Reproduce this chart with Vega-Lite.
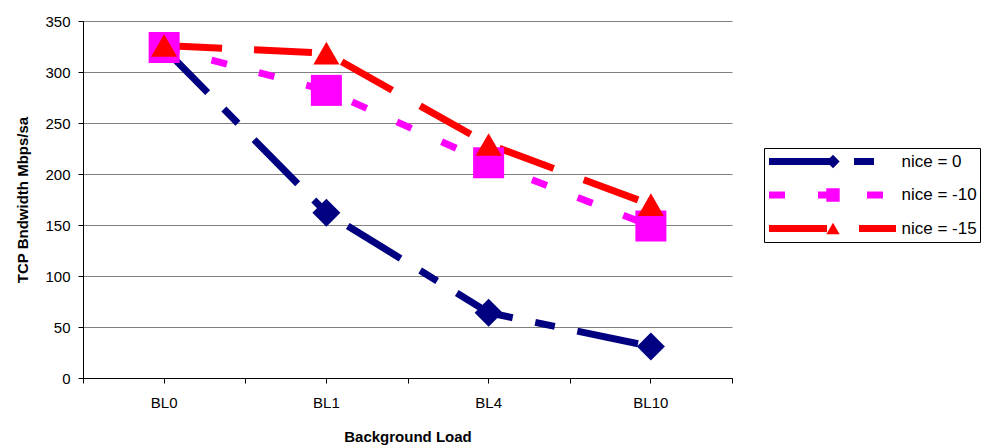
{
  "$schema": "https://vega.github.io/schema/vega-lite/v6.json",
  "width": 649,
  "height": 357,
  "autosize": {"type": "none"},
  "padding": {"left": 83, "top": 21, "right": 250, "bottom": 67},
  "background": "white",
  "config": {
    "view": {"stroke": null},
    "font": "Liberation Sans",
    "axis": {
      "labelFont": "Liberation Sans",
      "labelFontSize": 15,
      "labelColor": "black",
      "titleFont": "Liberation Sans",
      "titleFontSize": 15,
      "titleFontWeight": "bold",
      "titleColor": "black",
      "domainColor": "black",
      "domainWidth": 1,
      "tickColor": "black",
      "tickSize": 5,
      "tickWidth": 1
    }
  },
  "data": {
    "values": [
      {"load": "BL0", "series": "nice = 0", "marker": "m0", "bw": 323},
      {"load": "BL1", "series": "nice = 0", "marker": "m0", "bw": 162},
      {"load": "BL4", "series": "nice = 0", "marker": "m0", "bw": 64},
      {"load": "BL10", "series": "nice = 0", "marker": "m0", "bw": 31},
      {"load": "BL0", "series": "nice = -10", "marker": "m10", "bw": 324},
      {"load": "BL1", "series": "nice = -10", "marker": "m10", "bw": 282},
      {"load": "BL4", "series": "nice = -10", "marker": "m10", "bw": 211},
      {"load": "BL10", "series": "nice = -10", "marker": "m10", "bw": 149},
      {"load": "BL0", "series": "nice = -15", "marker": "m15", "bw": 326},
      {"load": "BL1", "series": "nice = -15", "marker": "m15", "bw": 318.5},
      {"load": "BL4", "series": "nice = -15", "marker": "m15", "bw": 229},
      {"load": "BL10", "series": "nice = -15", "marker": "m15", "bw": 170}
    ]
  },
  "encoding": {
    "x": {
      "field": "load",
      "type": "ordinal",
      "sort": ["BL0", "BL1", "BL4", "BL10"],
      "scale": {"type": "band", "paddingInner": 0, "paddingOuter": 0},
      "axis": null
    },
    "y": {
      "field": "bw",
      "type": "quantitative",
      "scale": {"domain": [0, 350], "nice": false, "zero": true},
      "axis": {
        "title": "TCP Bndwidth Mbps/sa",
        "values": [0, 50, 100, 150, 200, 250, 300, 350],
        "grid": true,
        "gridColor": "#808080",
        "gridWidth": 1.2,
        "labelPadding": 8,
        "titlePadding": 14
      }
    }
  },
  "layer": [
    {
      "mark": {"type": "line", "strokeWidth": 7, "strokeCap": "butt"},
      "encoding": {
        "x": {
          "field": "load",
          "type": "ordinal",
          "sort": ["BL0", "BL1", "BL4", "BL10"],
          "scale": {"type": "band", "paddingInner": 0, "paddingOuter": 0},
          "axis": {"orient": "bottom", "tickBand": "extent", "labels": false, "title": null, "grid": false}
        },
        "color": {
          "field": "series",
          "type": "nominal",
          "scale": {"domain": ["nice = 0", "nice = -10", "nice = -15"], "range": ["#000080", "#FF00FF", "#FF0000"]},
          "legend": {
            "orient": "none",
            "legendX": 681,
            "legendY": 127,
            "title": null,
            "symbolType": "stroke",
            "symbolSize": 16129,
            "symbolStrokeWidth": 7,
            "strokeColor": "black",
            "padding": 3,
            "clipHeight": 21,
            "rowPadding": 12.5,
            "symbolOffset": -1.5,
            "labelOffset": 2,
            "labelFontSize": 17,
            "labelFont": "Liberation Sans",
            "labelColor": "black",
            "labelLimit": 0
          }
        },
        "strokeDash": {
          "field": "series",
          "type": "nominal",
          "scale": {"domain": ["nice = 0", "nice = -10", "nice = -15"], "range": [[62, 23, 20, 23], [16, 33], [58, 32]]}
        }
      }
    },
    {
      "transform": [{"filter": "datum.marker == 'm0'"}],
      "mark": {"type": "point", "filled": true, "opacity": 1, "size": 784},
      "encoding": {
        "x": {
          "field": "load",
          "type": "ordinal",
          "sort": ["BL0", "BL1", "BL4", "BL10"],
          "scale": {"type": "band", "paddingInner": 0, "paddingOuter": 0},
          "axis": {"orient": "bottom", "title": "Background Load", "labelAngle": 0, "labelPadding": 12, "titlePadding": 19, "grid": false}
        },
        "fill": {
          "field": "marker",
          "type": "nominal",
          "scale": {"domain": ["m0", "m10", "m15"], "range": ["#000080", "#FF00FF", "#FF0000"]},
          "legend": {
            "orient": "none",
            "legendX": 739.5,
            "legendY": 127,
            "title": null,
            "symbolSize": 180,
            "padding": 3,
            "clipHeight": 21,
            "rowPadding": 12.5,
            "labelOpacity": 0,
            "labelFontSize": 15,
            "symbolStrokeWidth": 0,
            "symbolOpacity": 1
          }
        },
        "shape": {
          "field": "marker",
          "type": "nominal",
          "scale": {"domain": ["m0", "m10", "m15"], "range": ["diamond", "square", "triangle-up"]},
          "legend": {
            "orient": "none",
            "legendX": 739.5,
            "legendY": 127,
            "title": null,
            "symbolSize": 180,
            "padding": 3,
            "clipHeight": 21,
            "rowPadding": 12.5,
            "labelOpacity": 0,
            "labelFontSize": 15,
            "symbolStrokeWidth": 0,
            "symbolOpacity": 1
          }
        }
      }
    },
    {
      "transform": [{"filter": "datum.marker == 'm10'"}],
      "mark": {"type": "point", "filled": true, "opacity": 1, "size": 961},
      "encoding": {
        "fill": {"field": "marker", "type": "nominal"},
        "shape": {"field": "marker", "type": "nominal"}
      }
    },
    {
      "transform": [{"filter": "datum.marker == 'm15'"}],
      "mark": {"type": "point", "filled": true, "opacity": 1, "size": 680},
      "encoding": {
        "fill": {"field": "marker", "type": "nominal"},
        "shape": {"field": "marker", "type": "nominal"}
      }
    }
  ],
  "resolve": {"axis": {"x": "independent"}}
}
